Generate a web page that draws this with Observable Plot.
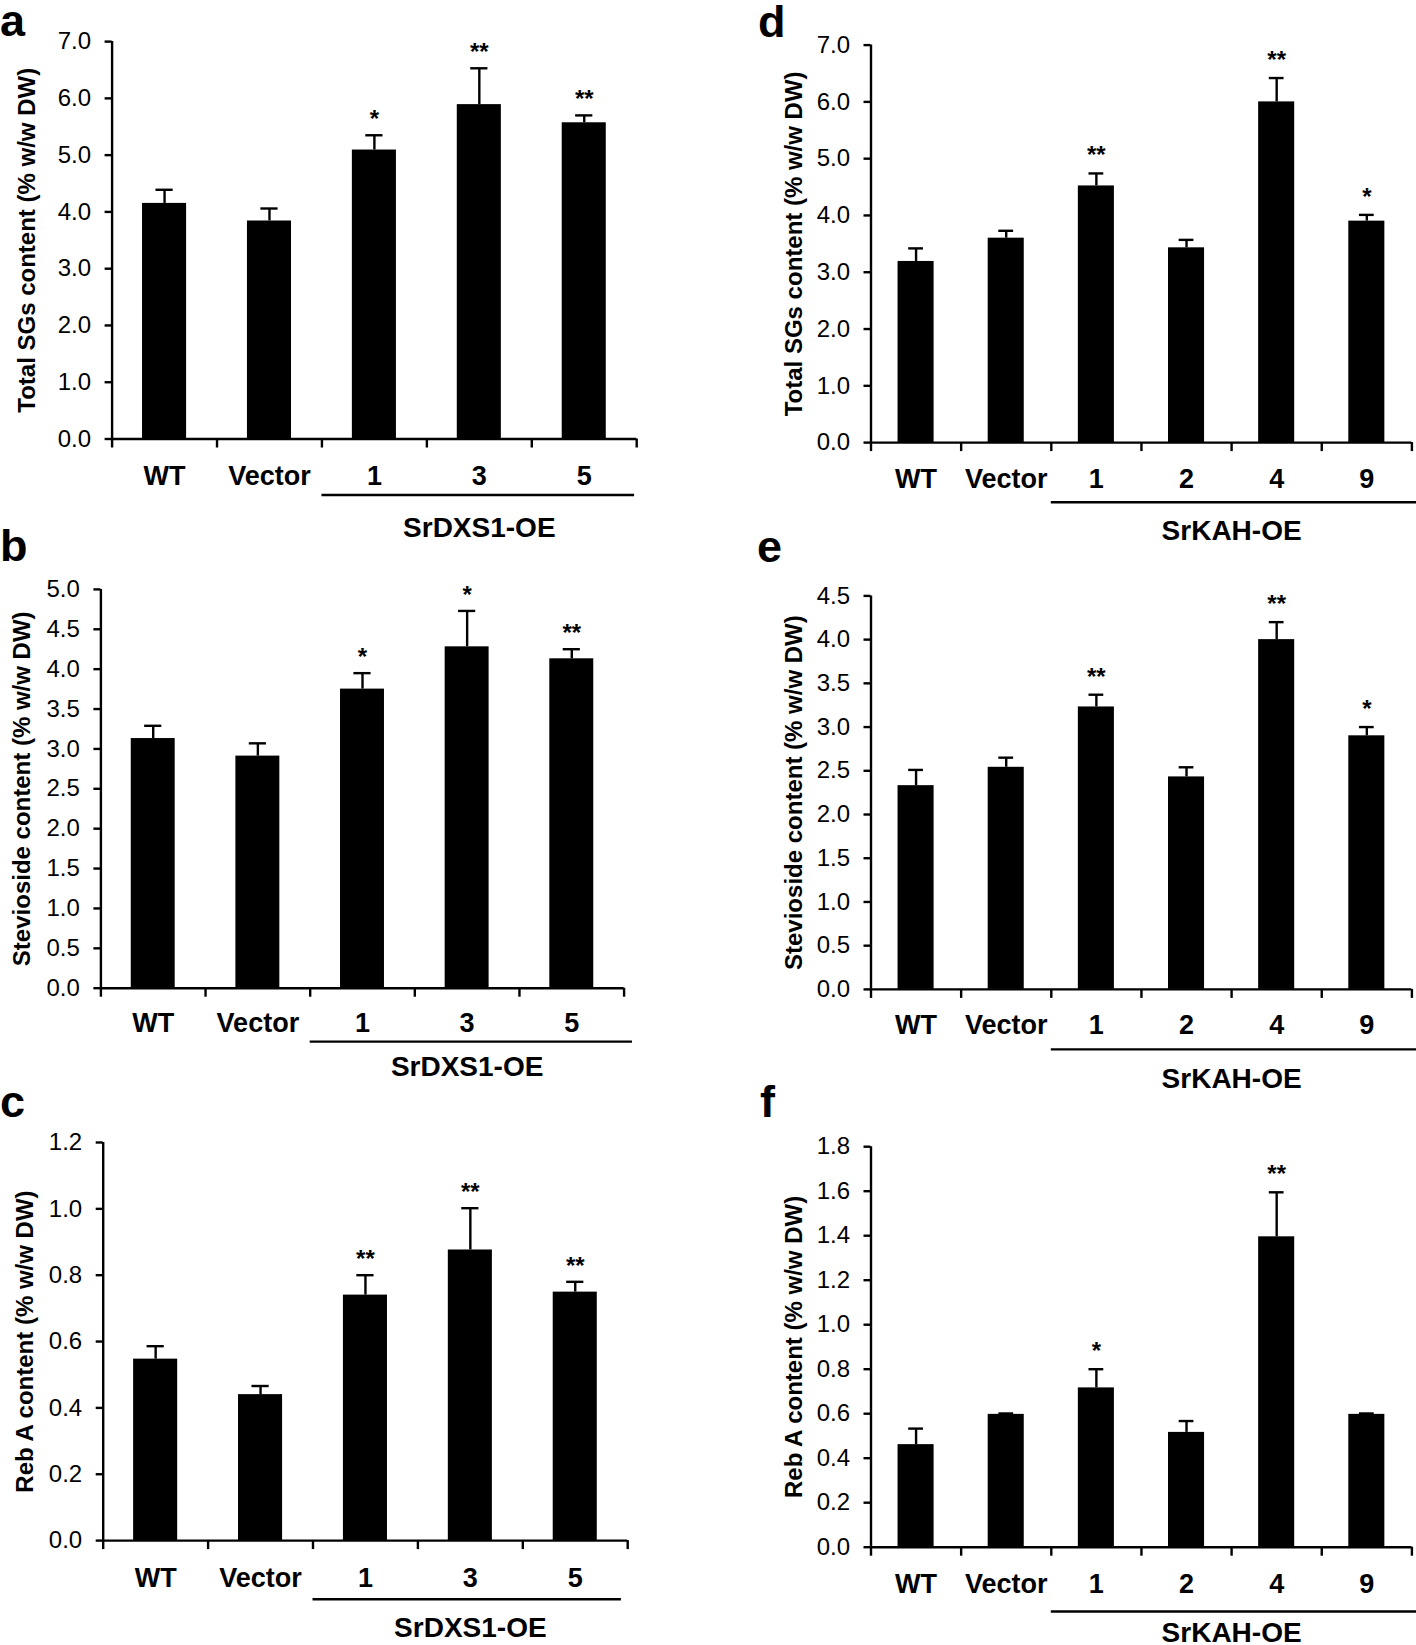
<!DOCTYPE html>
<html>
<head>
<meta charset="utf-8">
<script src="https://cdn.jsdelivr.net/npm/d3@7"></script>
<script src="https://cdn.jsdelivr.net/npm/@observablehq/plot@0.6"></script>
<style>
  html, body { margin: 0; padding: 0; background: #fff; }
  #page { position: relative; width: 1416px; height: 1645px; overflow: hidden; background: #fff;
          font-family: "Liberation Sans", Arial, Helvetica, sans-serif; color: #000; }
  .panel { position: absolute; }
  .panel svg { overflow: visible; background: transparent; }
  .panel svg [aria-label^="y-axis"] line,
  .panel svg [aria-label^="y-axis"] path { stroke: #000; stroke-width: 2.4px; }
  .panel svg [aria-label^="y-axis"] text { font-size: 24px; font-weight: normal; fill: #000; }
  .panel svg [aria-label^="x-axis"] text { font-size: 27px; font-weight: bold; fill: #000; }
  #letters { position: absolute; left: 0; top: 0; pointer-events: none; }
</style>
</head>
<body>
<div id="page"></div>
<script>
// ---------------- data ----------------
const dxsLines = ["WT", "Vector", "1", "3", "5"];
const kahLines = ["WT", "Vector", "1", "2", "4", "9"];

const dxsTotalSG    = [4.15, 3.84, 5.09, 5.89, 5.57];
const dxsTotalSGErr = [0.24, 0.22, 0.26, 0.64, 0.13];
const dxsTotalSGSig = ["", "", "*", "**", "**"];

const dxsStevioside    = [3.13, 2.91, 3.75, 4.28, 4.13];
const dxsSteviosideErr = [0.16, 0.16, 0.20, 0.45, 0.12];
const dxsSteviosideSig = ["", "", "*", "*", "**"];

const dxsRebA    = [0.547, 0.44, 0.74, 0.876, 0.749];
const dxsRebAErr = [0.039, 0.026, 0.06, 0.126, 0.031];
const dxsRebASig = ["", "", "**", "**", "**"];

const kahTotalSG    = [3.19, 3.60, 4.52, 3.43, 6.00, 3.90];
const kahTotalSGErr = [0.23, 0.13, 0.22, 0.14, 0.42, 0.11];
const kahTotalSGSig = ["", "", "**", "", "**", "*"];

const kahStevioside    = [2.33, 2.54, 3.23, 2.43, 4.00, 2.90];
const kahSteviosideErr = [0.18, 0.11, 0.14, 0.11, 0.20, 0.10];
const kahSteviosideSig = ["", "", "**", "", "**", "*"];

const kahRebA    = [0.461, 0.597, 0.716, 0.516, 1.395, 0.597];
const kahRebAErr = [0.072, 0.004, 0.084, 0.051, 0.20, 0.004];
const kahRebASig = ["", "", "*", "", "**", ""];

const ticksTotal  = [0, 1, 2, 3, 4, 5, 6, 7];
const ticksStevDXS = [0, 0.5, 1, 1.5, 2, 2.5, 3, 3.5, 4, 4.5, 5];
const ticksStevKAH = [0, 0.5, 1, 1.5, 2, 2.5, 3, 3.5, 4, 4.5];
const ticksRebDXS = [0, 0.2, 0.4, 0.6, 0.8, 1.0, 1.2];
const ticksRebKAH = [0, 0.2, 0.4, 0.6, 0.8, 1.0, 1.2, 1.4, 1.6, 1.8];

const labelTotal = "Total SGs content (% w/w DW)";
const labelStev  = "Stevioside content (% w/w DW)";
const labelReb   = "Reb A content (% w/w DW)";
const groupDXS = "SrDXS1-OE";
const groupKAH = "SrKAH-OE";

const panelLetters = ["a", "b", "c", "d", "e", "f"];

// ---------------- layout ----------------
const FONT = "'Liberation Sans', Arial, Helvetica, sans-serif";

function makePanel(cfg, cats, values, errs, sigs, yTicks, yLabel, groupLabel) {
  const n = cats.length;
  const ymax = yTicks[yTicks.length - 1];
  const plotH = cfg.h - cfg.mT - cfg.mB;
  const px = p => -p * ymax / plotH;           // pixel offset below the axis, in data units
  const rows = cats.map((c, i) => ({i, cat: c, v: values[i], e: errs[i], top: values[i] + errs[i], sig: sigs[i]}));
  const bounds = d3.range(n + 1).map(k => k - 0.5);
  const bh = cfg.barHalf, ch = 0.082;

  const svg = Plot.plot({
    width: cfg.w, height: cfg.h,
    marginLeft: cfg.mL, marginRight: cfg.mR, marginTop: cfg.mT, marginBottom: cfg.mB,
    style: {fontFamily: FONT, fontSize: "24px", color: "#000", background: "transparent", overflow: "visible"},
    x: {type: "linear", domain: [-0.5, n - 0.5], ticks: d3.range(n), tickFormat: i => cats[i],
        tickSize: 0, tickPadding: cfg.labelOff - 0.71 * 27, label: null, axis: "bottom"},
    y: {domain: [0, ymax], ticks: yTicks, tickFormat: d3.format(".1f"), tickSize: 7, tickPadding: 14,
        label: null, axis: "left"},
    marks: [
      Plot.rectY(rows, {x1: d => d.i - bh, x2: d => d.i + bh, y1: 0, y2: "v", fill: "#000"}),
      Plot.ruleX(rows, {x: "i", y1: "v", y2: "top", stroke: "#000", strokeWidth: 2.4}),
      Plot.ruleY(rows, {x1: d => d.i - ch, x2: d => d.i + ch, y: "top", stroke: "#000", strokeWidth: 2.4}),
      Plot.text(rows, {x: "i", y: "top", text: "sig", dy: -cfg.sigOff, lineAnchor: "bottom",
        fontWeight: "bold", fontSize: 24, fill: "#000"}),
      // axis lines
      Plot.ruleY([0], {stroke: "#000", strokeWidth: 2.4}),
      Plot.ruleX([-0.5], {y1: 0, y2: ymax, stroke: "#000", strokeWidth: 2.4}),
      // boundary ticks on x axis
      Plot.ruleX(bounds, {x: d => d, y1: 0, y2: px(9), stroke: "#000", strokeWidth: 2.4}),
      // group underline and group label
      Plot.ruleY([px(cfg.lineOff)], {x1: 1.5, x2: cfg.lineX2, stroke: "#000", strokeWidth: 2.4}),
      Plot.text([groupLabel], {x: (1.5 + n - 0.5) / 2, y: px(cfg.groupOff), text: d => d,
        lineAnchor: "bottom", textAnchor: "middle", fontWeight: "bold", fontSize: 28, fill: "#000"}),
      // y axis title
      Plot.text([yLabel], {frameAnchor: "left", rotate: -90, dx: cfg.yLabelX - cfg.mL, text: d => d,
        textAnchor: "middle", lineAnchor: "middle", fontWeight: "bold", fontSize: 24, fill: "#000"})
    ]
  });
  const div = document.createElement("div");
  div.className = "panel";
  div.style.left = cfg.left + "px";
  div.style.top = cfg.top + "px";
  div.appendChild(svg);
  document.getElementById("page").appendChild(div);
}

const cfgA = {left: 0, top: 0, w: 708, h: 545, mL: 111.6, mR: 71.8, mT: 41.1, mB: 106.5,
  labelOff: 45.5, lineOff: 56, groupOff: 97.5, yLabelX: 26.8, barHalf: 0.21, lineX2: 4.48, sigOff: 8};
const cfgB = {left: 0, top: 540, w: 708, h: 545, mL: 100.4, mR: 84.4, mT: 48.9, mB: 97.3,
  labelOff: 43.3, lineOff: 53.4, groupOff: 88, yLabelX: 22, barHalf: 0.21, lineX2: 4.58, sigOff: 8};
const cfgC = {left: 0, top: 1080, w: 708, h: 565, mL: 102.7, mR: 80.8, mT: 62, mB: 104.9,
  labelOff: 46, lineOff: 58.7, groupOff: 96, yLabelX: 24.6, barHalf: 0.21, lineX2: 4.44, sigOff: 8};
const cfgD = {left: 708, top: 0, w: 708, h: 545, mL: 162.5, mR: 4.6, mT: 44.6, mB: 102.9,
  labelOff: 45, lineOff: 59.6, groupOff: 97, yLabelX: 85.8, barHalf: 0.20, lineX2: 5.56, sigOff: 10};
const cfgE = {left: 708, top: 540, w: 708, h: 545, mL: 162.5, mR: 4.6, mT: 55.4, mB: 96.1,
  labelOff: 45, lineOff: 60, groupOff: 99, yLabelX: 85.8, barHalf: 0.20, lineX2: 5.56, sigOff: 10};
const cfgF = {left: 708, top: 1080, w: 708, h: 565, mL: 162.5, mR: 4.6, mT: 66.2, mB: 98.3,
  labelOff: 45.3, lineOff: 64.3, groupOff: 94.5, yLabelX: 85.8, barHalf: 0.20, lineX2: 5.56, sigOff: 10};

makePanel(cfgA, dxsLines, dxsTotalSG, dxsTotalSGErr, dxsTotalSGSig, ticksTotal, labelTotal, groupDXS);
makePanel(cfgB, dxsLines, dxsStevioside, dxsSteviosideErr, dxsSteviosideSig, ticksStevDXS, labelStev, groupDXS);
makePanel(cfgC, dxsLines, dxsRebA, dxsRebAErr, dxsRebASig, ticksRebDXS, labelReb, groupDXS);
makePanel(cfgD, kahLines, kahTotalSG, kahTotalSGErr, kahTotalSGSig, ticksTotal, labelTotal, groupKAH);
makePanel(cfgE, kahLines, kahStevioside, kahSteviosideErr, kahSteviosideSig, ticksStevKAH, labelStev, groupKAH);
makePanel(cfgF, kahLines, kahRebA, kahRebAErr, kahRebASig, ticksRebKAH, labelReb, groupKAH);

// panel letters
const letterPos = [[0, 36], [0, 561], [0, 1117], [758, 37], [757, 562], [760, 1117]];
const ns = "http://www.w3.org/2000/svg";
const lsvg = document.createElementNS(ns, "svg");
lsvg.setAttribute("id", "letters");
lsvg.setAttribute("width", 1416);
lsvg.setAttribute("height", 1645);
panelLetters.forEach((t, k) => {
  const el = document.createElementNS(ns, "text");
  el.setAttribute("x", letterPos[k][0]);
  el.setAttribute("y", letterPos[k][1]);
  el.setAttribute("font-family", FONT);
  el.setAttribute("font-weight", "bold");
  el.setAttribute("font-size", 45);
  el.setAttribute("fill", "#000");
  el.textContent = t;
  lsvg.appendChild(el);
});
document.getElementById("page").appendChild(lsvg);
</script>
</body>
</html>
